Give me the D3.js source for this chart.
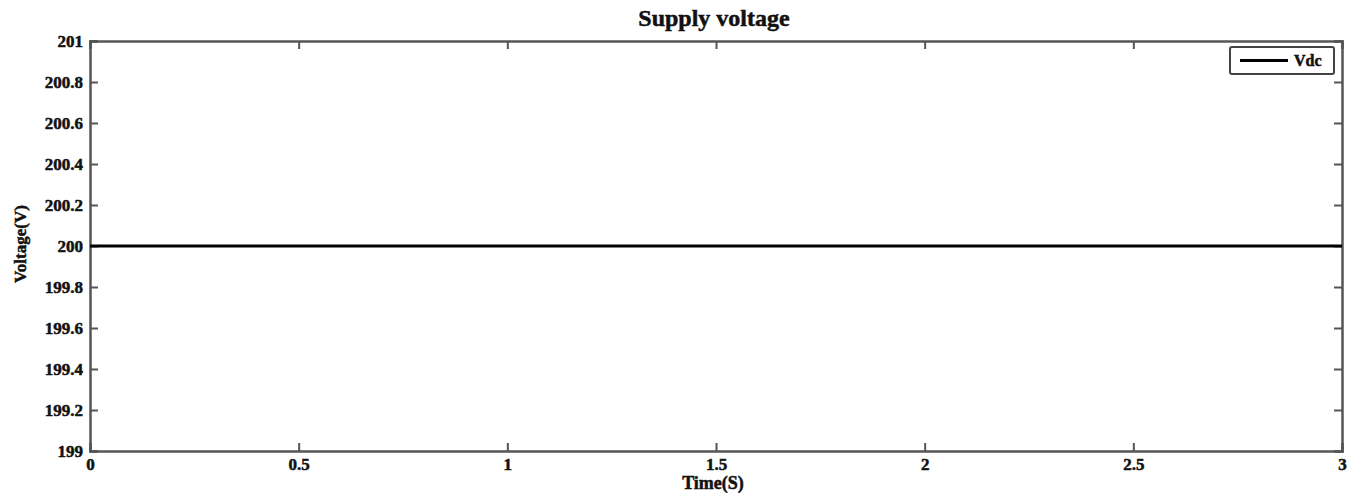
<!DOCTYPE html>
<html>
  <head>
    <meta charset="utf-8">
    <title>Supply voltage</title>
    <script type="text/javascript" src="https://d3js.org/d3.v7.min.js"></script>
    <style>
      html, body { margin: 0; background: #fff; }
      text { font-family: "Liberation Serif", "DejaVu Serif", serif; font-weight: bold; fill: #111; stroke: #111; stroke-width: 0.5px; }
    </style>
  </head>
  <body>
    <script>
    // data
    var time = [0, 0.5, 1, 1.5, 2, 2.5, 3];
    var vdc = [200, 200, 200, 200, 200, 200, 200];
    var xTicks = [0, 0.5, 1, 1.5, 2, 2.5, 3];
    var yTicks = [199, 199.2, 199.4, 199.6, 199.8, 200, 200.2, 200.4, 200.6, 200.8, 201];

    var W = 1353, H = 493;
    var m = {left: 90, right: 11, top: 41, bottom: 42};

    var svg = d3.select("body").append("svg")
                .attr("width", W).attr("height", H);

    var x = d3.scaleLinear().domain([0, 3]).range([m.left, W - m.right]);
    var y = d3.scaleLinear().domain([199, 201]).range([H - m.bottom, m.top]);

    var fmt = function(d) { return String(+d.toFixed(1)); };

    // ticks on all four sides, pointing inward
    var gB = svg.append("g").attr("transform", "translate(0," + (H - m.bottom) + ")")
      .call(d3.axisBottom(x).tickValues(xTicks).tickSize(-8).tickPadding(7).tickFormat(fmt));
    var gT = svg.append("g").attr("transform", "translate(0," + m.top + ")")
      .call(d3.axisTop(x).tickValues(xTicks).tickSize(-8).tickFormat(""));
    var gL = svg.append("g").attr("transform", "translate(" + m.left + ",0)")
      .call(d3.axisLeft(y).tickValues(yTicks).tickSize(-8).tickPadding(7).tickFormat(fmt));
    var gR = svg.append("g").attr("transform", "translate(" + (W - m.right) + ",0)")
      .call(d3.axisRight(y).tickValues(yTicks).tickSize(-8).tickFormat(""));

    [gB, gT, gL, gR].forEach(function(g) {
      g.select(".domain").attr("stroke", "#555").attr("stroke-width", 2.5);
      g.selectAll(".tick line").attr("stroke", "#555").attr("stroke-width", 2);
      g.selectAll(".tick text").style("font-size", "17px").attr("fill", "#111");
    });

    // the series
    var line = d3.line()
      .x(function(d, i) { return x(time[i]); })
      .y(function(d) { return y(d); });
    svg.append("path").datum(vdc)
      .attr("d", line)
      .attr("fill", "none")
      .attr("stroke", "#000")
      .attr("stroke-width", 3);

    // title and labels
    svg.append("text").attr("x", 714).attr("y", 26)
      .attr("text-anchor", "middle").style("font-size", "24px").text("Supply voltage");
    svg.append("text").attr("x", 713).attr("y", 489)
      .attr("text-anchor", "middle").style("font-size", "18px").text("Time(S)");
    svg.append("text").attr("transform", "translate(26," + 244 + ") rotate(-90)")
      .attr("text-anchor", "middle").style("font-size", "17px").text("Voltage(V)");

    // legend
    var lg = svg.append("g");
    lg.append("rect").attr("x", 1230).attr("y", 47).attr("width", 104).attr("height", 27)
      .attr("rx", 2).attr("fill", "#fff").attr("stroke", "#444").attr("stroke-width", 2);
    lg.append("line").attr("x1", 1240).attr("x2", 1288).attr("y1", 60.5).attr("y2", 60.5)
      .attr("stroke", "#000").attr("stroke-width", 3);
    lg.append("text").attr("x", 1294).attr("y", 66).style("font-size", "16px").text("Vdc");
    </script>
  </body>
</html>
